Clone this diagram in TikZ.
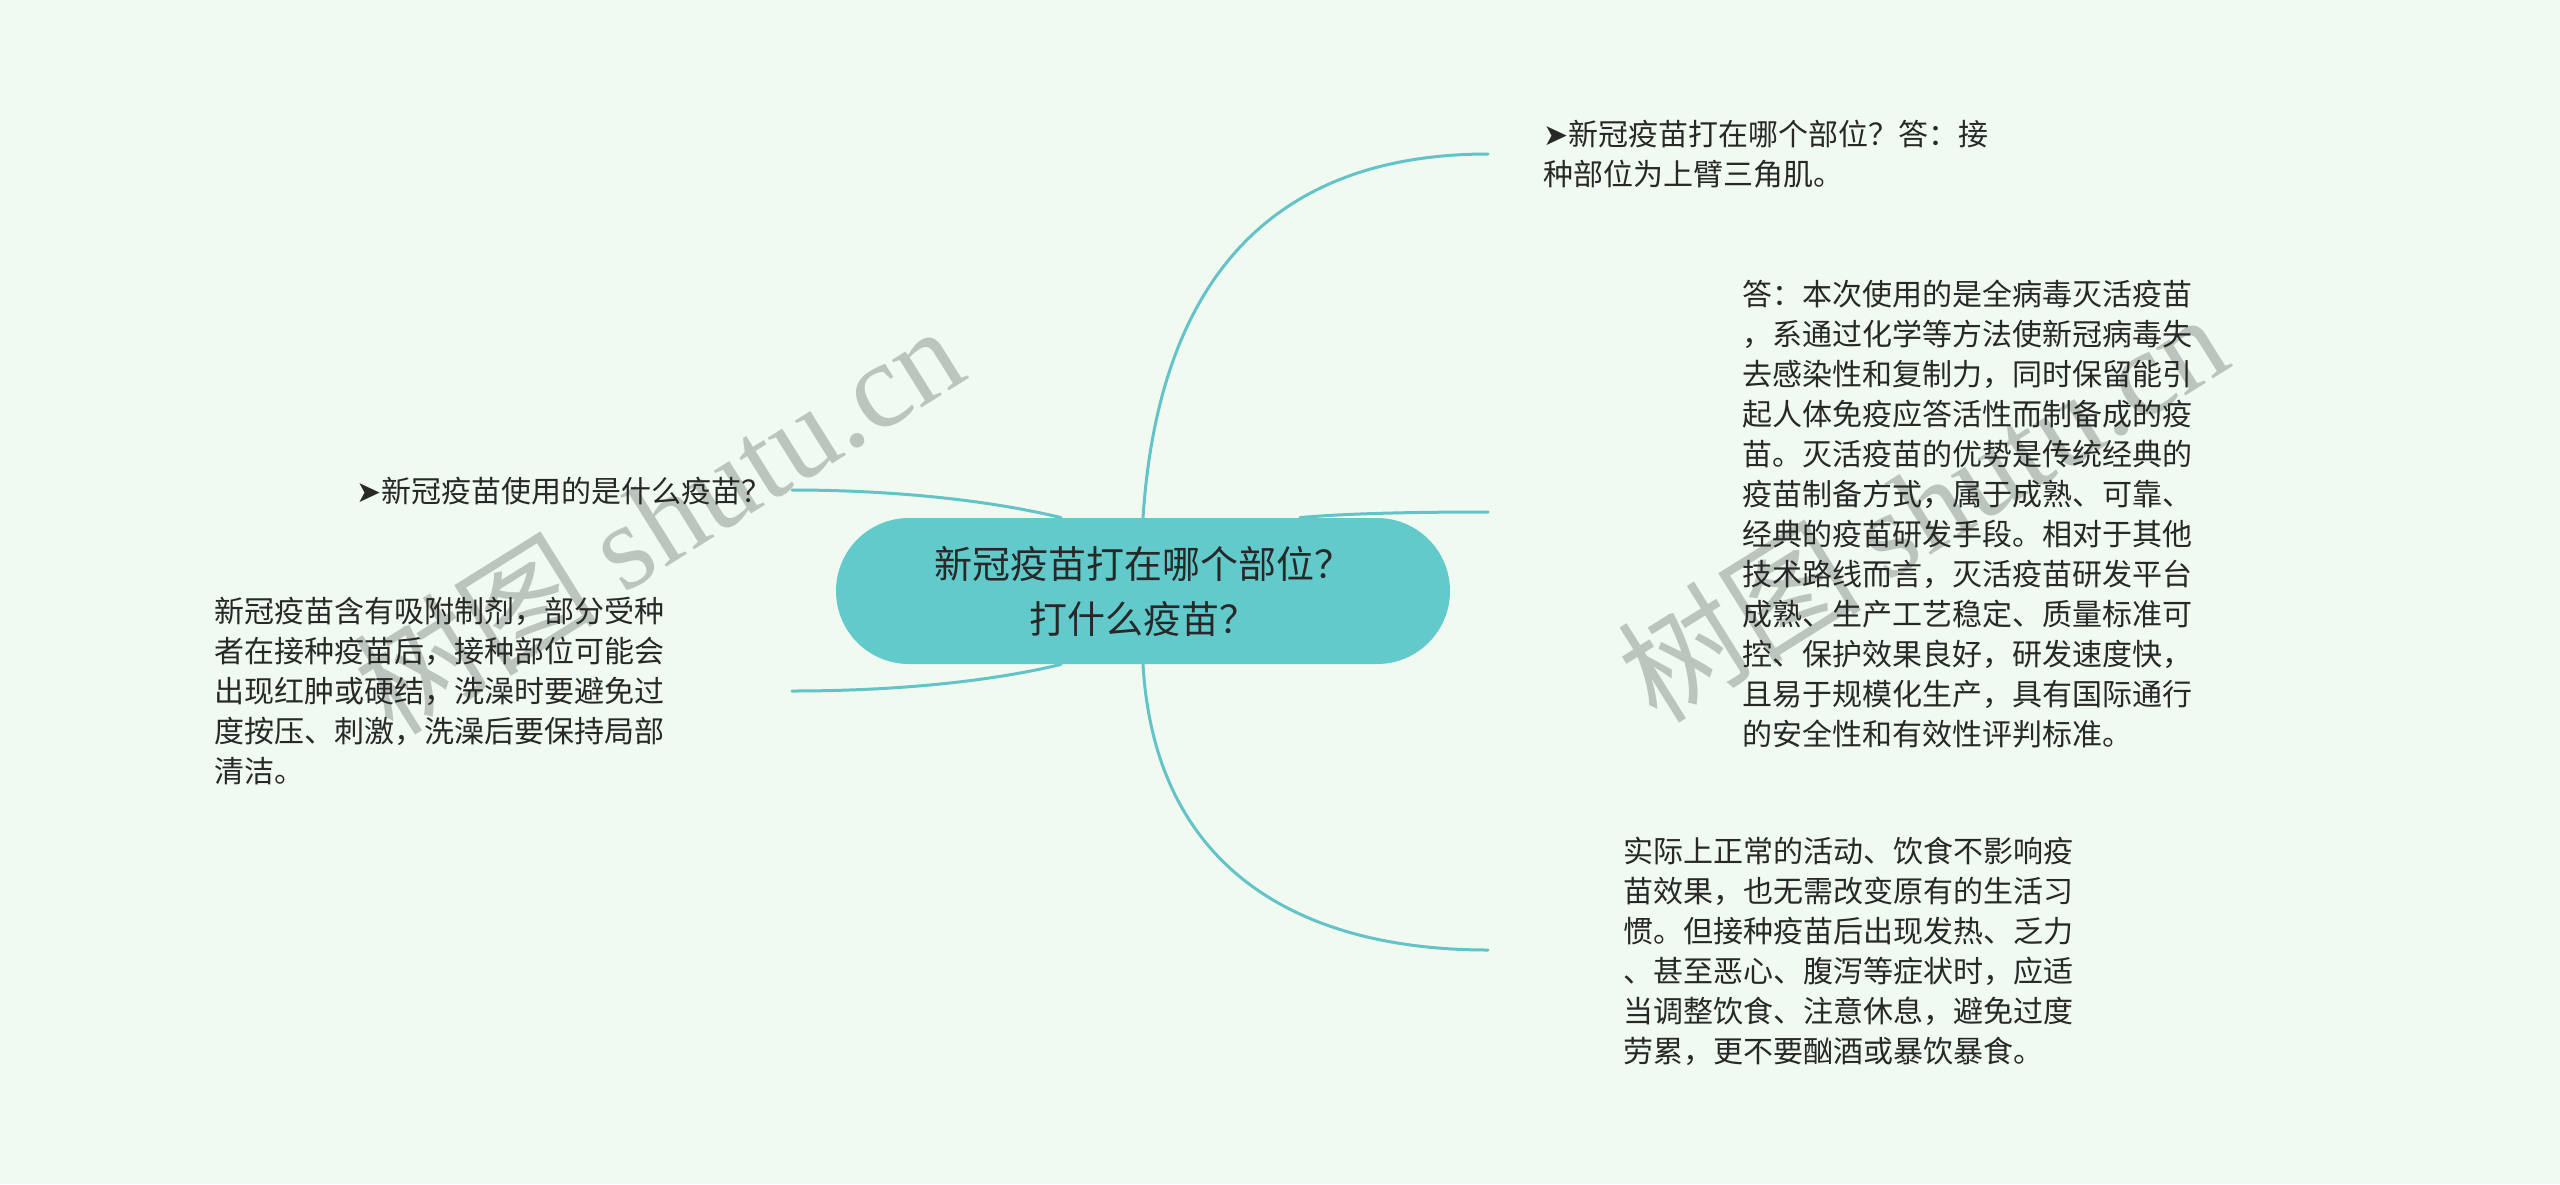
\documentclass[tikz,border=0pt]{standalone}
\usepackage{fontspec}
\setmainfont{Noto Sans CJK SC}
\newfontfamily\arrowfont{DejaVu Sans}
\newfontfamily\wmlatin{Liberation Serif}
\definecolor{bgc}{RGB}{240,250,240}
\definecolor{nodefill}{RGB}{99,202,204}
\definecolor{edgec}{RGB}{100,195,200}
\definecolor{txtc}{RGB}{40,40,40}
\definecolor{wmc}{RGB}{188,196,190}
\pgfdeclarelayer{bg}
\pgfdeclarelayer{edges}
\pgfsetlayers{bg,edges,main}
\tikzset{
  edge/.style={draw=edgec, line width=1.5pt, line cap=round},
  leaf/.style={anchor=north west, inner sep=0pt, align=left, text=txtc,
    font=\fontsize{15pt}{20pt}\selectfont},
  rootbox/.style={fill=nodefill, rounded corners=36.5pt, minimum width=307pt,
    minimum height=73pt, inner sep=0pt, align=center, text=txtc,
    font=\fontsize{19pt}{27.5pt}\selectfont},
  wm/.style={text=wmc, inner sep=0pt, rotate=32, font=\fontsize{61pt}{66pt}\selectfont}
}
\begin{document}
\begin{tikzpicture}[x=0.5pt,y=-0.5pt]
\begin{pgfonlayer}{bg}
\fill[bgc] (0,0) rectangle (2560,1184);
\end{pgfonlayer}
\useasboundingbox (0,0) rectangle (2560,1184);

\node[rootbox] (c) at (1143,591) {新冠疫苗打在哪个部位？\\打什么疫苗？};

% watermarks
\node[wm] (wm1) at (658,518) {树图 {\wmlatin shutu.cn}};
\node[wm] (wm2) at (1922,506) {树图 {\wmlatin shutu.cn}};

% leaves
\node[leaf] (t1) at (1543,120) {{\arrowfont ➤}新冠疫苗打在哪个部位？答：接\\种部位为上臂三角肌。};
\node[leaf] (t2) at (1742,280) {答：本次使用的是全病毒灭活疫苗\\，系通过化学等方法使新冠病毒失\\去感染性和复制力，同时保留能引\\起人体免疫应答活性而制备成的疫\\苗。灭活疫苗的优势是传统经典的\\疫苗制备方式，属于成熟、可靠、\\经典的疫苗研发手段。相对于其他\\技术路线而言，灭活疫苗研发平台\\成熟、生产工艺稳定、质量标准可\\控、保护效果良好，研发速度快，\\且易于规模化生产，具有国际通行\\的安全性和有效性评判标准。};
\node[leaf] (t3) at (1623,837) {实际上正常的活动、饮食不影响疫\\苗效果，也无需改变原有的生活习\\惯。但接种疫苗后出现发热、乏力\\、甚至恶心、腹泻等症状时，应适\\当调整饮食、注意休息，避免过度\\劳累，更不要酗酒或暴饮暴食。};
\node[leaf] (t4) at (356,477) {{\arrowfont ➤}新冠疫苗使用的是什么疫苗？};
\node[leaf] (t5) at (214,597) {新冠疫苗含有吸附制剂，部分受种\\者在接种疫苗后，接种部位可能会\\出现红肿或硬结，洗澡时要避免过\\度按压、刺激，洗澡后要保持局部\\清洁。};

\coordinate (e1) at (1488,154);
\coordinate (e2) at (1488,512);
\coordinate (e3) at (1488,950);
\coordinate (e4) at (792,490);
\coordinate (e5) at (792,691);

\begin{pgfonlayer}{edges}
\draw[edge] (c.north) .. controls (1160,260) and (1290,154) .. (e1);
\draw[edge] ([xshift=78.5pt]c.north) .. controls (1340,514) and (1400,512) .. (e2);
\draw[edge] (c.south) .. controls (1155,870) and (1300,950) .. (e3);
\draw[edge] ([xshift=-41pt]c.north) .. controls (980,498) and (880,490) .. (e4);
\draw[edge] ([xshift=-41pt]c.south) .. controls (980,684) and (880,691) .. (e5);
\end{pgfonlayer}
\end{tikzpicture}
\end{document}
